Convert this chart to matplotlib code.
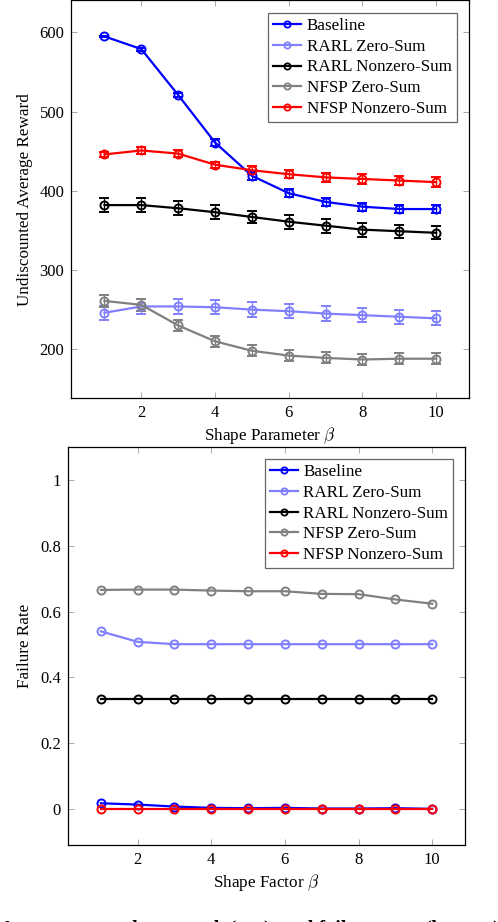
import matplotlib
matplotlib.use("Agg")
import matplotlib.pyplot as plt
from matplotlib.lines import Line2D

plt.rcParams['font.family'] = ['Liberation Serif', 'DejaVu Serif']
plt.rcParams['mathtext.fontset'] = 'cm'

beta = [1, 2, 3, 4, 5, 6, 7, 8, 9, 10]
series_names = ["Baseline", "RARL Zero-Sum", "RARL Nonzero-Sum", "NFSP Zero-Sum", "NFSP Nonzero-Sum"]
series_colors = ["#0000ff", "#8080ff", "#000000", "#808080", "#ff0000"]

# Top: undiscounted average reward (mean, error)
reward_baseline = [595, 579, 521, 461, 419, 397, 386, 380, 377, 377]
reward_baseline_err = [1, 2, 3, 4, 5, 5, 5, 5, 5, 5]
reward_rarl_zero = [246, 254, 254, 253, 250, 248, 245, 243, 241, 239]
reward_rarl_zero_err = [9, 9, 9, 9, 9, 9, 9, 9, 9, 9]
reward_rarl_nonzero = [382, 382, 378, 373, 367, 361, 356, 351, 349, 347]
reward_rarl_nonzero_err = [9, 9, 9, 9, 8, 9, 9, 9, 8, 8]
reward_nfsp_zero = [261, 256, 230, 210, 198, 192, 189, 187, 188, 188]
reward_nfsp_zero_err = [8, 8, 7, 7, 7, 7, 7, 7, 7, 7]
reward_nfsp_nonzero = [446, 451, 447, 433, 426, 421, 417, 415, 413, 411]
reward_nfsp_nonzero_err = [3, 4, 4, 4, 5, 5, 6, 6, 6, 6]

# Bottom: failure rate
fail_baseline = [0.017, 0.013, 0.007, 0.003, 0.002, 0.003, 0.001, 0.001, 0.002, 0.0]
fail_rarl_zero = [0.540, 0.508, 0.501, 0.501, 0.501, 0.501, 0.501, 0.501, 0.501, 0.501]
fail_rarl_nonzero = [0.334, 0.334, 0.334, 0.334, 0.334, 0.334, 0.334, 0.334, 0.334, 0.334]
fail_nfsp_zero = [0.666, 0.667, 0.667, 0.664, 0.662, 0.662, 0.654, 0.653, 0.637, 0.624]
fail_nfsp_nonzero = [0.0, 0.0, 0.0, 0.0, 0.0, 0.0, 0.0, 0.0, 0.0, 0.0]

reward_means = [reward_baseline, reward_rarl_zero, reward_rarl_nonzero, reward_nfsp_zero, reward_nfsp_nonzero]
reward_errs = [reward_baseline_err, reward_rarl_zero_err, reward_rarl_nonzero_err, reward_nfsp_zero_err, reward_nfsp_nonzero_err]
fail_vals = [fail_baseline, fail_rarl_zero, fail_rarl_nonzero, fail_nfsp_zero, fail_nfsp_nonzero]

fig = plt.figure(figsize=(4.98, 9.22), dpi=100)

ax1 = fig.add_axes([0.1432, 0.568, 0.7992, 0.432])
ax2 = fig.add_axes([0.136, 0.0835, 0.7984, 0.4314])

line_kw = dict(lw=1.6, marker='o', ms=5.8, mfc='none', mew=1.4)

for name, col, m, e in zip(series_names, series_colors, reward_means, reward_errs):
    ax1.errorbar(beta, m, yerr=e, color=col, ecolor=col, elinewidth=0.9,
                 capsize=3.5, capthick=0.9, **line_kw)

for name, col, v in zip(series_names, series_colors, fail_vals):
    ax2.plot(beta, v, color=col, **line_kw)

handles = [Line2D([], [], color=c, lw=1.6, marker='o', ms=4.5, mfc='none', mew=1.3)
           for c in series_colors]

ax1.set_xlim(0.1, 10.9)
ax1.set_ylim(138, 641)
ax1.set_yticks([200, 300, 400, 500, 600])
ax2.set_xlim(0.1, 10.9)
ax2.set_ylim(-0.11, 1.1)
ax2.set_yticks([0, 0.2, 0.4, 0.6, 0.8, 1])
ax2.set_yticklabels(["0", "0.2", "0.4", "0.6", "0.8", "1"])

for ax in (ax1, ax2):
    ax.set_xticks([2, 4, 6, 8, 10])
    ax.tick_params(direction='in', length=4, width=0.7, color='#a8a8a8',
                   top=True, right=True, labelsize=12, pad=5)
    for s in ax.spines.values():
        s.set_linewidth(0.9)
        s.set_color('black')

ax1.set_xlabel(r"Shape Parameter $\beta$", fontsize=12.3, labelpad=3)
ax1.set_ylabel("Undiscounted Average Reward", fontsize=12.3, labelpad=5)
ax2.set_xlabel(r"Shape Factor $\beta$", fontsize=12.3, labelpad=3)
ax2.set_ylabel("Failure Rate", fontsize=12.3, labelpad=5)

leg_kw = dict(loc='upper right', fontsize=12.3, frameon=True, fancybox=False,
              handlelength=1.65, handletextpad=0.3, labelspacing=0.27,
              borderpad=0.3, borderaxespad=0)
l1 = ax1.legend(handles, series_names, bbox_to_anchor=(0.968, 0.967), **leg_kw)
l2 = ax2.legend(handles, series_names, bbox_to_anchor=(0.970, 0.970), **leg_kw)
for l in (l1, l2):
    l.get_frame().set_edgecolor('#404040')
    l.get_frame().set_linewidth(0.9)

fig.text(0.0, -0.0145, "Averages over the reward  (top)  and failure rate  (bottom)",
         fontsize=14.5, fontweight='bold', ha='left', va='baseline')

fig.savefig("out.png", dpi=100)
